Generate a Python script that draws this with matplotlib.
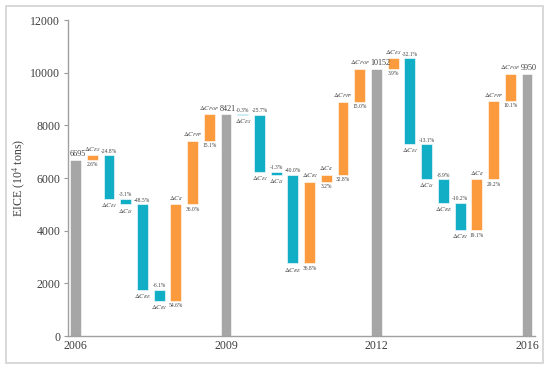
import matplotlib
matplotlib.use("Agg")
import matplotlib.pyplot as plt
from matplotlib.patches import Rectangle

plt.rcParams['font.family'] = ['Liberation Serif', 'DejaVu Serif']
plt.rcParams['mathtext.fontset'] = 'stix'

years = ['2006', '2009', '2012', '2016']
totals = [6695, 8421, 10152, 9950]
factors = ['ES', 'EI', 'IS', 'RE', 'RI', 'II', 'PPP', 'POP']
changes_0609 = [174, -1660, -208, -3247, -408, 3655, 2410, 1010]
changes_0912 = [-25, -2164, -109, -3368, 3099, 269, 2762, 1267]
changes_1216 = [396, -3259, -1330, -904, -1036, 1939, 2964, 1028]
pct_0609 = ['2.6%', '-24.8%', '-3.1%', '-48.5%', '-6.1%', '54.6%', '36.0%', '15.1%']
pct_0912 = ['-0.3%', '-25.7%', '-1.3%', '-40.0%', '36.8%', '3.2%', '32.8%', '15.0%']
pct_1216 = ['3.9%', '-32.1%', '-13.1%', '-8.9%', '-10.2%', '19.1%', '29.2%', '10.1%']

GREY = '#A6A6A6'
TEAL = '#12AEC6'
ORANGE = '#FC9A3E'
TXT = '#404040'
W = 0.65

fig = plt.figure(figsize=(5.5, 3.71), dpi=100)
ax = fig.add_axes([0.1236, 0.0943, 0.8491, 0.8517])

fig.patches.append(Rectangle((0.011, 0.0216), 0.976, 0.962, transform=fig.transFigure,
                             fill=False, edgecolor='#D5D5D5', linewidth=1.3))

periods = [(changes_0609, pct_0609), (changes_0912, pct_0912), (changes_1216, pct_1216)]

def total_bar(x, v):
    ax.bar(x, v, width=W, color=GREY, edgecolor='white', linewidth=0.4, zorder=2)
    ax.text(x - W / 2 - 0.05, v + 60, str(v), ha='left', va='bottom', fontsize=5.9, color=TXT)

for i, (chg, pct) in enumerate(periods):
    x0 = 9 * i
    total_bar(x0, totals[i])
    running = totals[i]
    for j, c in enumerate(chg):
        x = x0 + 1 + j
        bottom = running if c > 0 else running + c
        top = bottom + abs(c)
        col = ORANGE if c > 0 else TEAL
        ax.bar(x, abs(c), bottom=bottom, width=W, color=col, edgecolor='white',
               linewidth=0.4, zorder=2)
        lab = r'$\Delta C_{%s}$' % factors[j]
        if c > 0:
            ax.text(x, top + 60, lab, ha='center', va='bottom', fontsize=4.8, color=TXT)
            ax.text(x, bottom - 90, pct[j], ha='center', va='top', fontsize=4.0, color=TXT)
        else:
            ax.text(x, top + 60, pct[j], ha='center', va='bottom', fontsize=4.0, color=TXT)
            ax.text(x, bottom - 90, lab, ha='center', va='top', fontsize=4.8, color=TXT)
        running += c
total_bar(27, totals[3])

ax.set_xlim(-0.45, 27.48)
ax.set_ylim(0, 12000)
ax.set_xticks([0, 9, 18, 27])
ax.set_xticklabels(years)
ax.set_yticks(range(0, 12001, 2000))
ax.tick_params(axis='x', length=0, labelsize=8.6, colors=TXT, pad=3)
ax.tick_params(axis='y', length=3, width=0.8, labelsize=8.6, colors=TXT, color='#999999', pad=2.5)
for s in ['top', 'right']:
    ax.spines[s].set_visible(False)
for s in ['left', 'bottom']:
    ax.spines[s].set_color('#A0A0A0')
    ax.spines[s].set_linewidth(1.0)
ax.set_ylabel('EICE (10$^4$ tons)', fontsize=8.6, color=TXT)
ax.yaxis.set_label_coords(-0.087, 0.5)

fig.savefig('out.png', dpi=100)
